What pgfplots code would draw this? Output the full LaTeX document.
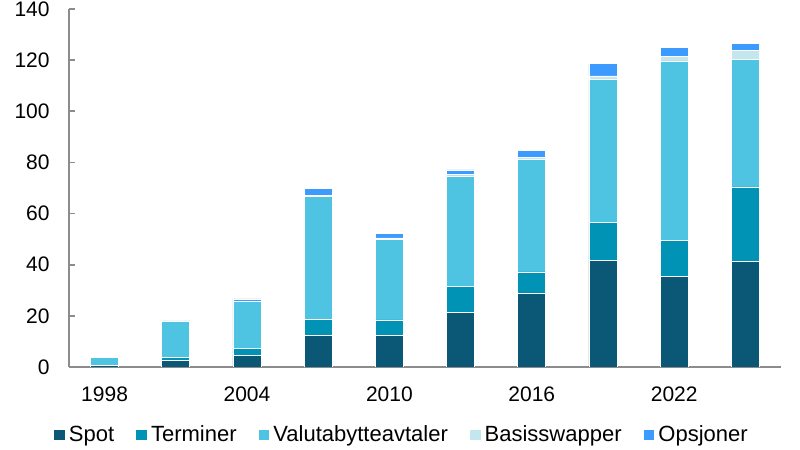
\documentclass[border=0pt]{standalone}
\usepackage{pgfplots}
\pgfplotsset{compat=1.18}
\usepackage{pgfplotstable}
\usepackage{fontspec}
\setmainfont{Liberation Sans}
\definecolor{cSpot}{HTML}{0B5876}
\definecolor{cTerm}{HTML}{0093B5}
\definecolor{cVal}{HTML}{4EC3E2}
\definecolor{cBas}{HTML}{C4E7EF}
\definecolor{cOps}{HTML}{3D9BFF}
\definecolor{axgray}{HTML}{8C8C8C}
\pgfplotstableread{
year spot term valuta basis opsj
1998 0.5 0.2 2.9 0 0
2001 2.5 1.1 14.4 0 0.1
2004 4.5 2.7 18.6 0 0.8
2007 12.3 6.4 48.0 0.5 2.5
2010 12.3 6.1 31.5 0.6 1.8
2013 21.4 10.1 43.2 0.6 1.8
2016 29.0 8.2 43.9 0.8 2.9
2019 41.7 14.7 56.1 1.3 4.8
2022 35.4 14.0 70.3 1.7 3.6
2025 41.4 29.0 50.0 3.4 2.9
}\datatable
\begin{document}
\fontsize{10.5}{12}\selectfont
\begin{tikzpicture}
\path[use as bounding box] (-34.5pt,-41.5pt) rectangle (365.5pt,183.5pt);
\begin{axis}[
  at={(0,0)}, anchor=south west,
  scale only axis,
  width=356pt, height=179pt,
  xmin=1996.5, xmax=2026.5,
  ymin=0, ymax=140,
  ytick={0,20,...,140},
  xtick={1998,2004,2010,2016,2022},
  /pgf/number format/1000 sep={},
  /pgf/number format/assume math mode=true,
  ybar stacked,
  bar width=1.18,
  axis x line*=bottom,
  axis y line*=left,
  axis line style={axgray, line width=0.8pt},
  x axis line style={-},
  y axis line style={-},
  tick style={axgray, line width=0.8pt},
  major tick length=2.8pt,
  ytick pos=left,
  xtick style={draw=none},
  tick align=inside,
  ticklabel style={font=\fontsize{10.5}{12}\selectfont, text=black},
  xticklabel style={yshift=-6pt},
  yticklabel style={xshift=-6pt},
  legend style={draw=none, at={(0.469,-0.19)}, anchor=center, legend columns=-1,
    font=\fontsize{11}{13}\selectfont,
    /tikz/every even column/.append style={column sep=9pt}},
  legend image code/.code={\fill[#1, draw=none] (0pt,-2.7pt) rectangle (5.4pt,2.7pt);},
]
\addplot[fill=cSpot, draw=white, line width=0.3pt] table[x=year,y=spot]{\datatable};
\addplot[fill=cTerm, draw=white, line width=0.3pt] table[x=year,y=term]{\datatable};
\addplot[fill=cVal, draw=white, line width=0.3pt] table[x=year,y=valuta]{\datatable};
\addplot[fill=cBas, draw=white, line width=0.3pt] table[x=year,y=basis]{\datatable};
\addplot[fill=cOps, draw=white, line width=0.3pt] table[x=year,y=opsj]{\datatable};
\legend{Spot,Terminer,Valutabytteavtaler,Basisswapper,Opsjoner}
\end{axis}
\end{tikzpicture}
\end{document}
